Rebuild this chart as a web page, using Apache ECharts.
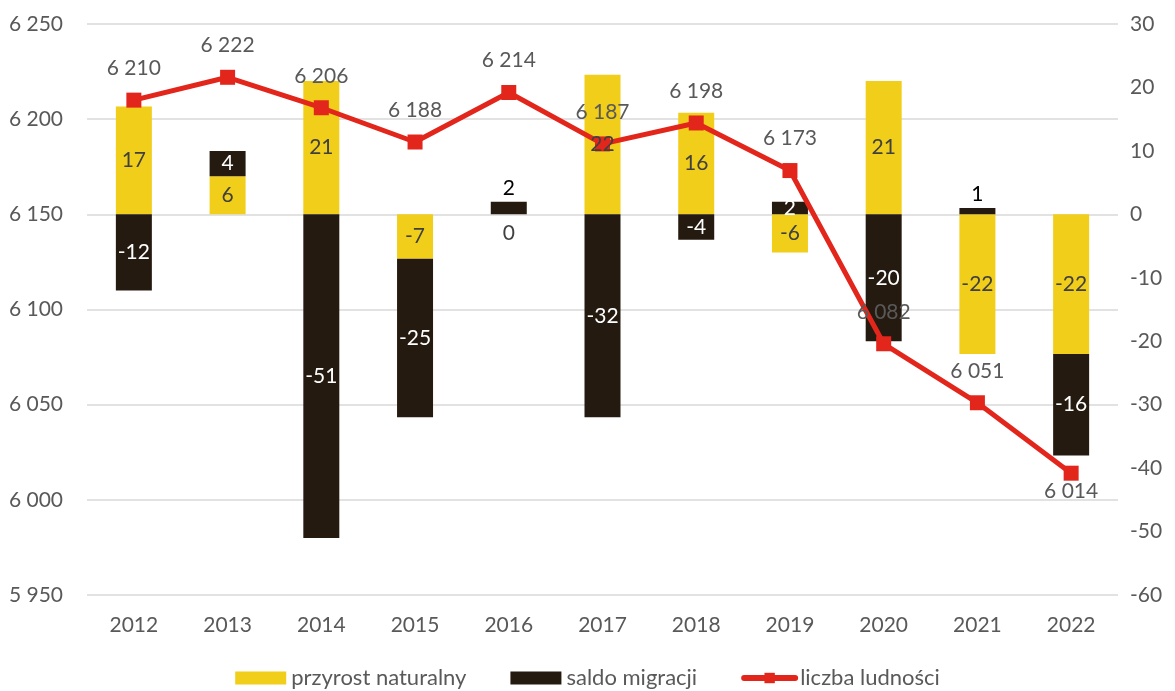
<!DOCTYPE html>
<html>
<head>
<meta charset="utf-8">
<script src="https://cdn.jsdelivr.net/npm/echarts@6/dist/echarts.min.js"></script>
<style>
  html, body { margin: 0; padding: 0; background: #fff; }
  #chart { width: 1175px; height: 691px; }
</style>
</head>
<body>
<div id="chart"></div>
<script>
// Years on the category axis
const years = ['2012', '2013', '2014', '2015', '2016', '2017', '2018', '2019', '2020', '2021', '2022'];
// Natural increase (right axis)
const przyrostNaturalny = [17, 6, 21, -7, 0, 22, 16, -6, 21, -22, -22];
// Net migration (right axis)
const saldoMigracji = [-12, 4, -51, -25, 2, -32, -4, 2, -20, 1, -16];
// Population (left axis)
const liczbaLudnosci = [6210, 6222, 6206, 6188, 6214, 6187, 6198, 6173, 6082, 6051, 6014];

const FONT = 'Lato, "Open Sans", sans-serif';
const TEXT = '#595959';
const YELLOW = '#F1CE1A';
const DARK = '#251A10';
const RED = '#E3261B';
const FS = 21;
const CLEAR = 'rgba(0,0,0,0)';

const fmtThousands = v => {
  const s = String(Math.abs(v));
  const out = s.replace(/\B(?=(\d{3})+(?!\d))/g, ' ');
  return (v < 0 ? '-' : '') + out;
};

// Label items for the bars; small stubs get their label placed above / below
const yellowLabelData = przyrostNaturalny.map(v => {
  const item = { value: v };
  if (v === 0) item.label = { position: 'bottom', distance: 8 };
  return item;
});
const darkLabelData = saldoMigracji.map((v, i) => {
  const item = { value: v };
  if (years[i] === '2016' || years[i] === '2021') {
    item.label = { position: 'top', color: '#000', distance: 3 };
  }
  return item;
});
const lineData = liczbaLudnosci.map((v, i) => {
  const item = { value: v };
  if (i === liczbaLudnosci.length - 1) item.label = { position: 'bottom', distance: 0 };
  return item;
});

const chart = echarts.init(document.getElementById('chart'), null, { renderer: 'canvas' });
chart.setOption({
  animation: false,
  textStyle: { fontFamily: FONT },
  grid: { left: 87, right: 57, top: 24, bottom: 96, containLabel: false },
  legend: {
    top: 667,
    left: 'center',
    padding: 0,
    itemWidth: 51,
    itemHeight: 13,
    itemGap: 44,
    textStyle: { color: TEXT, fontSize: 22, fontFamily: FONT },
    data: [
      { name: 'przyrost naturalny', icon: 'rect' },
      { name: 'saldo migracji', icon: 'rect' },
      { name: 'liczba ludności', lineStyle: { width: 6, cap: 'round' } }
    ]
  },
  xAxis: {
    type: 'category',
    data: years,
    axisLine: { show: false },
    axisTick: { show: false },
    axisLabel: { color: TEXT, fontSize: FS, margin: 20 }
  },
  yAxis: [
    {
      type: 'value',
      min: 5950,
      max: 6250,
      interval: 50,
      axisLine: { show: false },
      axisTick: { show: false },
      splitLine: { lineStyle: { color: '#D9D9D9', width: 1.5 } },
      axisLabel: { color: TEXT, fontSize: FS, margin: 24, formatter: fmtThousands }
    },
    {
      type: 'value',
      min: -60,
      max: 30,
      interval: 10,
      axisLine: { show: false },
      axisTick: { show: false },
      splitLine: { show: false },
      axisLabel: { color: TEXT, fontSize: FS, margin: 12 }
    }
  ],
  series: [
    {
      name: 'przyrost naturalny',
      type: 'bar',
      yAxisIndex: 1,
      stack: 'zmiany',
      barWidth: 36,
      itemStyle: { color: YELLOW },
      data: przyrostNaturalny,
      z: 2
    },
    {
      name: 'saldo migracji',
      type: 'bar',
      yAxisIndex: 1,
      stack: 'zmiany',
      barWidth: 36,
      itemStyle: { color: DARK },
      data: saldoMigracji,
      z: 2
    },
    {
      name: 'liczba ludności',
      type: 'line',
      yAxisIndex: 0,
      symbol: 'rect',
      symbolSize: 15,
      lineStyle: { color: RED, width: 5, cap: 'round' },
      itemStyle: { color: RED },
      label: {
        show: true,
        position: 'top',
        distance: 14,
        color: TEXT,
        fontSize: FS,
        formatter: p => fmtThousands(p.value)
      },
      data: lineData,
      z: 3
    },
    // Invisible copies of the stacked bars that carry the value labels above the line
    {
      name: 'przyrost-etykiety',
      type: 'bar',
      yAxisIndex: 1,
      stack: 'etykiety',
      barWidth: 36,
      itemStyle: { color: CLEAR },
      label: { show: true, position: 'inside', color: '#404040', fontSize: FS },
      data: yellowLabelData,
      silent: true,
      z: 5
    },
    {
      name: 'saldo-etykiety',
      type: 'bar',
      yAxisIndex: 1,
      stack: 'etykiety',
      barWidth: 36,
      barGap: '-100%',
      itemStyle: { color: CLEAR },
      label: { show: true, position: 'inside', color: '#fff', fontSize: FS },
      data: darkLabelData,
      silent: true,
      z: 5
    }
  ]
});
</script>
</body>
</html>
